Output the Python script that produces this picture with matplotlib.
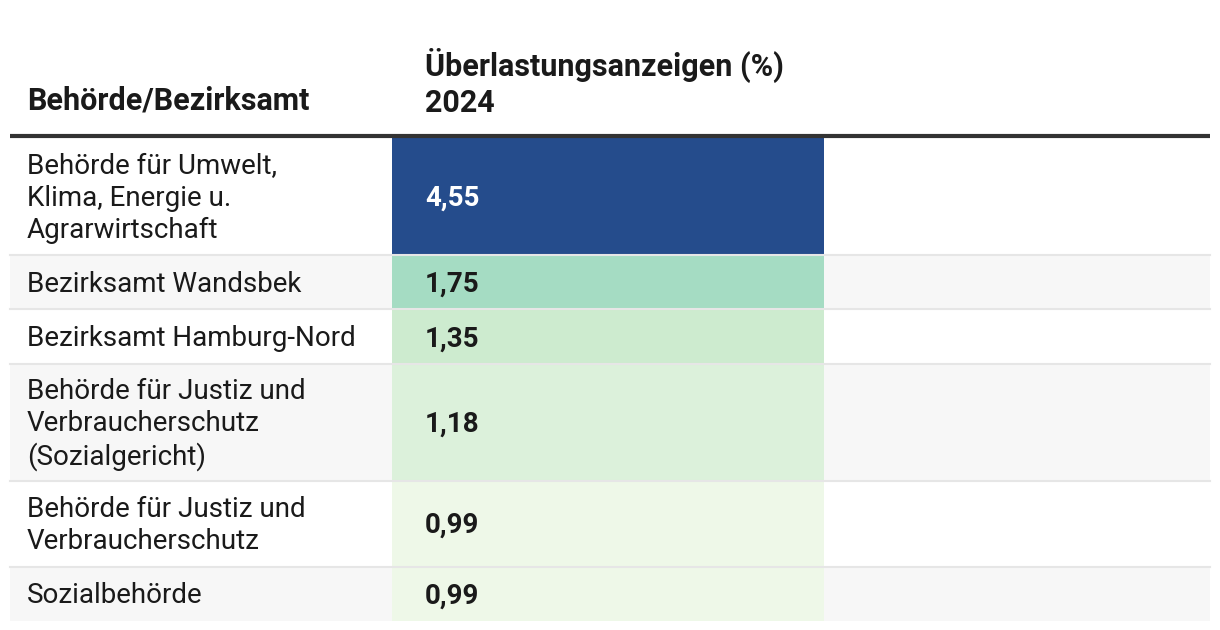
import matplotlib.pyplot as plt
from matplotlib.patches import Rectangle

plt.rcParams['font.family'] = ['Roboto', 'DejaVu Sans']

# Data
behoerden = [
    'Behörde für Umwelt,\nKlima, Energie u.\nAgrarwirtschaft',
    'Bezirksamt Wandsbek',
    'Bezirksamt Hamburg-Nord',
    'Behörde für Justiz und\nVerbraucherschutz\n(Sozialgericht)',
    'Behörde für Justiz und\nVerbraucherschutz',
    'Sozialbehörde',
]
anzeigen_2024 = [4.55, 1.75, 1.35, 1.18, 0.99, 0.99]
col_label = 'Behörde/Bezirksamt'
val_label = 'Überlastungsanzeigen (%)\n2024'

# cell colours (heatmap scale)
cell_colors = ['#254c8c', '#a5dcc3', '#cdebcf', '#dcf1db', '#eef8e8', '#eef8e8']
text_colors = ['white', '#1a1a1a', '#1a1a1a', '#1a1a1a', '#1a1a1a', '#1a1a1a']

W, H = 1220, 630
fig = plt.figure(figsize=(W / 100, H / 100), dpi=100)
ax = fig.add_axes([0, 0, 1, 1])
ax.set_xlim(0, W)
ax.set_ylim(H, 0)
ax.axis('off')

fs = 20
hfs = 22
left, right = 10, 1210
cx0, cx1 = 392, 824

# header
ax.text(27, 101, col_label, fontsize=hfs, fontweight='bold', color='#1a1a1a', va='center', ha='left')
ax.text(425, 83, val_label, fontsize=hfs, fontweight='bold', color='#1a1a1a', va='center', ha='left',
        linespacing=1.2)
ax.plot([left, right], [136, 136], color='#333333', lw=3, solid_capstyle='butt')

y = 138
for i, (lab, v) in enumerate(zip(behoerden, anzeigen_2024)):
    n = lab.count('\n') + 1
    h = 23.7 + 31 * n
    bg = '#f7f7f7' if i % 2 == 1 else 'white'
    ax.add_patch(Rectangle((left, y), right - left, h, facecolor=bg, edgecolor='none'))
    ax.add_patch(Rectangle((cx0, y), cx1 - cx0, h, facecolor=cell_colors[i], edgecolor='none'))
    if i > 0:
        ax.plot([left, right], [y, y], color='#e6e6e6', lw=1.5)
    ax.text(27, y + h / 2 + 2, lab, fontsize=fs, color='#1a1a1a', va='center', ha='left', linespacing=1.22)
    ax.text(425, y + h / 2 + 2, f'{v:.2f}'.replace('.', ','), fontsize=fs, fontweight='bold',
            color=text_colors[i], va='center', ha='left')
    y += h

fig.savefig('out.png', dpi=100)
